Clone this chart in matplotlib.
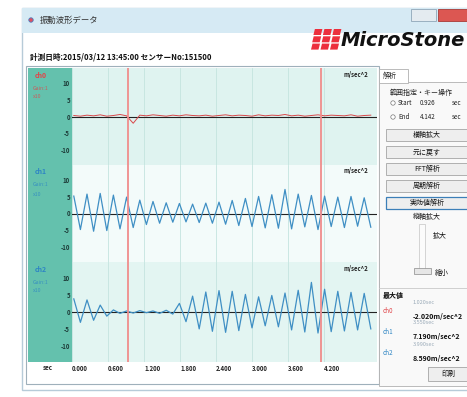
import numpy as np
import matplotlib.pyplot as plt
from matplotlib.patches import Rectangle, Polygon, Circle

plt.rcParams['font.family'] = ['Noto Sans CJK JP', 'DejaVu Sans']

W, H = 467, 397

# 波形 (半周期ごとのピーク値, m/sec^2)
t_start = 0.03
dt_peak = 0.11
ch0_vals = [0.3, 0.1, 0.4, 0.2, 0.5, 0.1, 0.3, 0.6, 0.2, -2.02,
            0.4, 0.2, 0.5, 0.3, 0.1, 0.4, 0.2, 0.5, 0.3, 0.2,
            0.4, 0.1, 0.3, 0.5, 0.2, 0.4, 0.3, 0.1, 0.5, 0.2,
            0.4, 0.3, 0.6, 0.2, 0.4, 0.1, 0.3, 0.5, 0.2, 0.4,
            0.3, 0.2, 0.5, 0.1, 0.3, 0.4]
ch1_vals = [5.2, -4.8, 5.8, -5.3, 6.0, -5.1, 5.5, -4.6, 4.9, -4.2,
            4.0, -3.3, 3.6, -2.9, 3.2, -2.6, 3.0, -2.5, 2.8, -2.7,
            3.1, -2.9, 3.4, -3.2, 3.9, -3.6, 4.5, -3.9, 5.1, -4.3,
            5.6, -4.4, 7.19, -4.6, 5.8, -4.0, 5.4, -4.8, 5.2, -3.9,
            4.9, -4.2, 5.1, -3.8, 4.7, -4.1]
ch2_vals = [3.8, -3.0, 3.5, -2.4, 2.0, -1.2,
            0.6, -0.4, 0.3, -0.3, 0.4, -0.2, 0.3, -0.4, 0.5, -0.6,
            2.5, -2.8,
            4.6, -4.9, 5.8, -5.6, 6.2, -5.9, 6.0, -5.4,
            5.1, -4.6, 4.4, -4.0, 4.8, -4.3,
            5.5, -5.2, 6.3, -5.8, 8.59, -6.1, 6.6, -5.7,
            6.0, -5.5, 5.7, -5.2, 5.4, -4.9]

channels = ['ch0', 'ch1', 'ch2']
ch_colors = ['#d9474a', '#3f8fc4', '#3f8fc4']
label_colors = ['#e0464a', '#2f86c4', '#2f86c4']
sub_labels = [['Gain:1', 'x10'], ['Gain:1', 'x10'], ['Gain:1', 'x10']]
time_ticks = [0.0, 0.6, 1.2, 1.8, 2.4, 3.0, 3.6, 4.2]
y_ticks = [10, 5, 0, -5, -10]
cursor_start = 0.926
cursor_end = 4.142
buttons = ['横軸拡大', '元に戻す', 'FFT解析', '周期解析', '実効値解析']

t = t_start + dt_peak * np.arange(len(ch1_vals))

fig = plt.figure(figsize=(W / 100, H / 100), dpi=100)
ui = fig.add_axes([0, 0, 1, 1], zorder=0)
ui.set_xlim(0, W)
ui.set_ylim(H, 0)
ui.axis('off')


def rect(x0, y0, x1, y1, **kw):
    ui.add_patch(Rectangle((x0, y0), x1 - x0, y1 - y0, **kw))


def px(x, y):
    return x / W, 1 - y / H


# ウィンドウ枠とタイトルバー
rect(22, 8, 472, 390, fc='white', ec='#b7cbd8', lw=1)
rect(22, 8, 472, 33, fc='#d6eaf4', ec='none')
rect(411, 9, 436, 21, fc='#e4ebf0', ec='#8fa6b8', lw=0.6)
rect(438, 9, 472, 21, fc='#dc5752', ec='#a83a36', lw=0.6)
ui.add_patch(Circle((31, 20), 2.2, fc='#e05060', ec='#4a7fc0', lw=0.6))
ui.text(40, 20, '振動波形データ', fontsize=6, va='center', color='#333')

# ロゴ
for r in range(3):
    for c in range(3):
        x0 = 311 + c * 9.5 + (2 - r) * 1.2
        y0 = 29 + r * 7.3
        ui.add_patch(Polygon([(x0 + 1.5, y0), (x0 + 9, y0), (x0 + 7.5, y0 + 6),
                              (x0, y0 + 6)], closed=True, fc='#ec2f3d', ec='none'))
ui.text(341, 40, 'MicroStone', fontsize=14, fontweight='heavy', style='italic',
        va='center', family='DejaVu Sans', color='#111')

ui.text(30, 57, '計測日時:2015/03/12 13:45:00 センサーNo:151500',
        fontsize=5.5, fontweight='bold', va='center', color='#111')

# グラフ領域
rect(26, 66, 379, 384, fc='white', ec='#9fb0bb', lw=0.8)
rect(28, 68, 73, 362, fc='#64c1ad', ec='none')
ui.text(48, 368, 'sec', fontsize=4.5, fontweight='bold', ha='center', va='center',
        color='#222')

panel_tops = [68, 165, 262]
panel_bottoms = [165, 262, 362]
panel_bg = ['#dff3f0', '#f3fbfa', '#e3f5f2']
series = [ch0_vals, ch1_vals, ch2_vals]
x_left, x_right = 72, 377
x_max = (x_right - x_left) / 60.0

axes = []
for i in range(3):
    x0, y1 = px(x_left, panel_bottoms[i])
    ax = fig.add_axes([x0, y1, (x_right - x_left) / W,
                       (panel_bottoms[i] - panel_tops[i]) / H], zorder=2)
    ax.set_facecolor(panel_bg[i])
    ax.set_xlim(0, x_max)
    ax.set_ylim(-14.5, 14.5)
    for s in ax.spines.values():
        s.set_visible(False)
    ax.set_xticks(time_ticks)
    ax.grid(axis='x', color='#c4e4df', lw=0.6)
    ax.set_yticks(y_ticks)
    ax.set_yticklabels([str(v) for v in y_ticks], fontsize=4.3, fontweight='bold',
                       color='#1d3b38')
    ax.tick_params(axis='y', length=0, pad=1.5)
    ax.axhline(0, color='#222', lw=0.8, zorder=2)
    ax.plot(t, series[i], color=ch_colors[i], lw=0.9 if i else 0.7, zorder=3)
    for c in (cursor_start, cursor_end):
        ax.axvline(c, color='#f08c8c', lw=1.3, zorder=4)
    ax.text(*px(356, panel_tops[i] + 6), 'm/sec^2', transform=fig.transFigure,
            fontsize=4.3, fontweight='bold', ha='center', va='center', color='#222')
    if i < 2:
        ax.tick_params(axis='x', length=0, labelbottom=False)
    else:
        ax.set_xticklabels([f'{v:.3f}' for v in time_ticks], fontsize=4.3,
                           fontweight='bold', ha='left', color='#222')
        ax.tick_params(axis='x', length=0, pad=2.5)
    axes.append(ax)

    ly = panel_tops[i] + 7
    ui.text(41, ly, channels[i], fontsize=5, fontweight='bold', ha='center',
            va='center', color=label_colors[i])
    for k, s in enumerate(sub_labels[i]):
        ui.text(33, ly + 13 + 9 * k, s, fontsize=3.8, va='center',
                color=label_colors[i], alpha=0.8)

# 右パネル
rect(379, 82, 472, 386, fc='#f9f9f9', ec='#b0b0b0', lw=0.6)
rect(379, 69, 408, 83, fc='white', ec='#b0b0b0', lw=0.6)
ui.text(383, 76, '解析', fontsize=5, va='center', color='#222')
ui.text(390, 93, '範囲指定・キー操作', fontsize=5, va='center', color='#222')
for k, (name, val) in enumerate([('Start', cursor_start), ('End', cursor_end)]):
    yy = 103 + 14 * k
    ui.add_patch(Circle((393, yy), 2.2, fc='white', ec='#777', lw=0.5))
    ui.text(398, yy, name, fontsize=4.5, va='center', color='#222')
    ui.text(420, yy, f'{val:.3f}', fontsize=4.5, va='center', color='#222')
    ui.text(452, yy, 'sec', fontsize=4.5, va='center', color='#222')

for k, b in enumerate(buttons):
    yc = 135 + 17 * k
    sel = k == 4
    rect(386, yc - 6, 470, yc + 6, fc='#eeeeee',
         ec='#3c7fb8' if sel else '#a5a5a5', lw=0.9 if sel else 0.6)
    ui.text(427, yc, b, fontsize=5, ha='center', va='center', color='#111')
ui.text(427, 217, '縦軸拡大', fontsize=5, ha='center', va='center', color='#111')

# 縦軸スライダー
rect(419, 224, 425, 270, fc='#fbfbfb', ec='#c4c4c4', lw=0.5)
rect(414, 268, 431, 274, fc='#e6e6e6', ec='#8a8a8a', lw=0.5)
ui.text(440, 236, '拡大', fontsize=5, ha='center', va='center', color='#111')
ui.text(442, 273, '縮小', fontsize=5, ha='center', va='center', color='#111')

# 最大値 (カーソル範囲内の絶対値最大)
ui.plot([379, 472], [288, 288], color='#c8c8c8', lw=0.6)
ui.text(383, 295, '最大値', fontsize=5, fontweight='bold', va='center', color='#111')
in_range = (t >= cursor_start) & (t <= cursor_end)
for i in range(3):
    v = np.asarray(series[i])
    k = np.argmax(np.where(in_range, np.abs(v), -1))
    yb = 302 + 21 * i
    ui.text(413, yb, f'{t[k]:.3f}sec', fontsize=4, va='center', color='#9aaab8')
    ui.text(383, yb + 9, channels[i], fontsize=4.5, va='center', color=label_colors[i])
    ui.text(413, yb + 14, f'{v[k]:.3f}m/sec^2', fontsize=5, fontweight='bold',
            va='center', color='#111')
rect(428, 367, 470, 381, fc='#eeeeee', ec='#a5a5a5', lw=0.6)
ui.text(448, 374, '印刷', fontsize=5, ha='center', va='center', color='#111')

fig.savefig('out.png', dpi=100)
